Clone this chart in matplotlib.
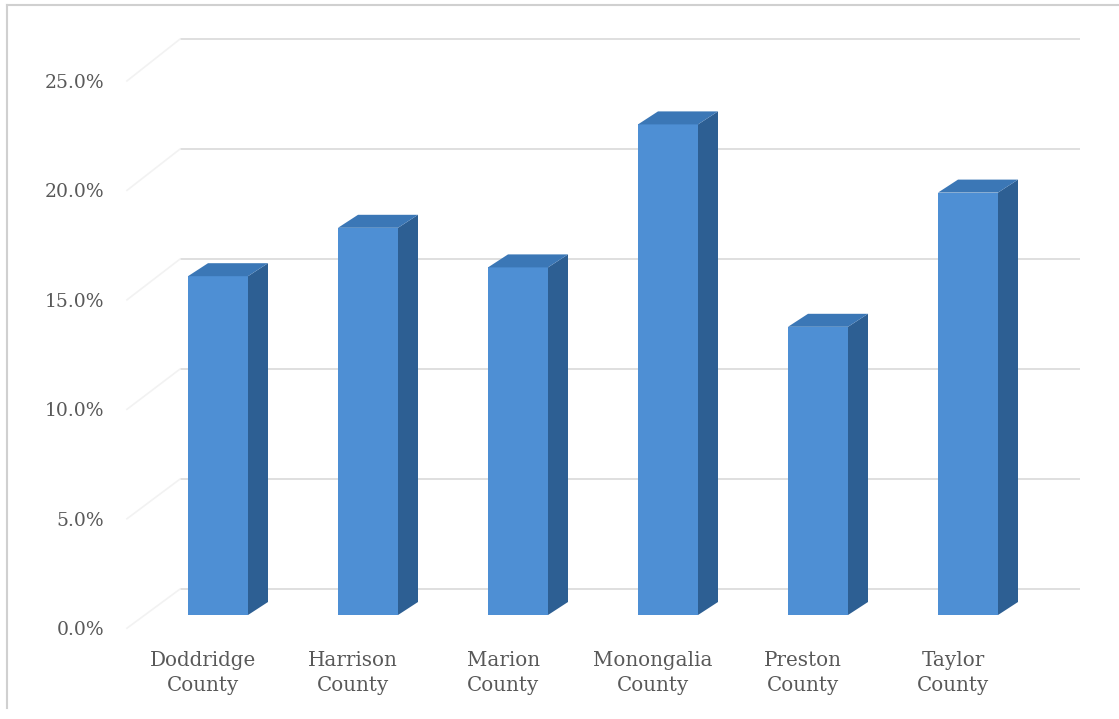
import matplotlib.pyplot as plt
from matplotlib.patches import Polygon
from matplotlib.lines import Line2D

# county shares (percent)
counties = ["Doddridge\nCounty", "Harrison\nCounty", "Marion\nCounty",
            "Monongalia\nCounty", "Preston\nCounty", "Taylor\nCounty"]
shares = [15.4, 17.6, 15.8, 22.3, 13.1, 19.2]
ticks = [0, 5, 10, 15, 20, 25]
tick_labels = ["0.0%", "5.0%", "10.0%", "15.0%", "20.0%", "25.0%"]

FRONT = "#4e8fd4"
SIDE = "#2d5f93"
TOP = "#3b77b6"
GRID = "#d9d9d9"
TEXT = "#595959"

# pixel geometry of the pseudo-3D frame
W_PX, H_PX = 1119, 719
CAT_PX = 150.0      # pixels per category
PCT_PX = 22.0       # pixels per percent
X0_PX, Y0_PX = 218, 615   # first bar centre / bar floor (from top)

BAR_W = 0.4
BAR_DX, BAR_DY = 20 / CAT_PX, 13 / PCT_PX           # bar depth
WALL_DX, WALL_DY = 0.247, 1.18                       # back wall offset
FLOOR_DX, FLOOR_DY = -0.107, -0.6                    # front floor edge offset

fig = plt.figure(figsize=(W_PX / 100, H_PX / 100), dpi=100)
ax = fig.add_axes([0, 0, 1, 1])
ax.set_xlim(-X0_PX / CAT_PX, (W_PX - X0_PX) / CAT_PX)
ax.set_ylim(-(H_PX - Y0_PX) / PCT_PX, Y0_PX / PCT_PX)
ax.set_axis_off()

left, right = -0.5, len(shares) - 0.5

# back wall gridlines and faint side wall diagonals
for t in ticks:
    ax.plot([left + WALL_DX, right + WALL_DX], [t + WALL_DY] * 2,
            color=GRID, lw=1.2, zorder=1, solid_capstyle="butt")
    ax.plot([left + FLOOR_DX, left + WALL_DX], [t * 0.995 + FLOOR_DY, t + WALL_DY],
            color="#f2f2f2", lw=1.2, zorder=1)

# bars: front face + side + top
xs = list(range(len(shares)))
ax.bar(xs, shares, width=BAR_W, color=FRONT, linewidth=0, zorder=3)
for x, v in zip(xs, shares):
    r = x + BAR_W / 2
    l = x - BAR_W / 2
    side = Polygon([(r, 0), (r + BAR_DX, BAR_DY), (r + BAR_DX, v + BAR_DY), (r, v)],
                   closed=True, facecolor=SIDE, edgecolor="none", zorder=3)
    top = Polygon([(l, v), (r, v), (r + BAR_DX, v + BAR_DY), (l + BAR_DX, v + BAR_DY)],
                  closed=True, facecolor=TOP, edgecolor="none", zorder=3)
    ax.add_patch(side)
    ax.add_patch(top)

# value axis labels sit on the front edge of the side wall
for t, lab in zip(ticks, tick_labels):
    ax.text(-0.76, t * 0.995 - 0.68, lab, ha="right", va="center",
            fontsize=13.5, color=TEXT, family="DejaVu Serif")

# category labels
for x, name in zip(xs, counties):
    ax.text(x - 0.1, -2.64, name, ha="center", va="center", fontsize=14.3,
            color=TEXT, family="DejaVu Serif", linespacing=1.4)

# chart border (left and top)
fig.add_artist(Line2D([7 / W_PX, 7 / W_PX], [1 - 708 / H_PX, 1 - 5 / H_PX],
                      transform=fig.transFigure, color="#d0d0d0", lw=1.5))
fig.add_artist(Line2D([7 / W_PX, 1], [1 - 5 / H_PX, 1 - 5 / H_PX],
                      transform=fig.transFigure, color="#d0d0d0", lw=1.5))

fig.savefig("out.png", dpi=100)
